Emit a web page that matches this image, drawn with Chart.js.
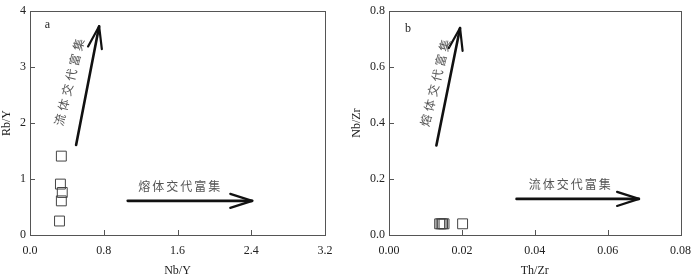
<!DOCTYPE html>
<html>
<head>
<meta charset="utf-8">
<script src="https://cdn.jsdelivr.net/npm/chart.js@4/dist/chart.umd.min.js"></script>
<style>
  html, body { margin: 0; padding: 0; background: #fff; }
  .wrap { position: relative; width: 700px; height: 275px; }
  .panel { position: absolute; top: 0; width: 350px; height: 275px; }
  #panelA { left: 0; }
  #panelB { left: 350px; }
</style>
</head>
<body>
<div class="wrap">
  <div class="panel" id="panelA"><canvas id="chartA" width="350" height="275"></canvas></div>
  <div class="panel" id="panelB"><canvas id="chartB" width="350" height="275"></canvas></div>
</div>
<script>
  // panel a: Rb/Y vs Nb/Y
  const aNbY = [0.34, 0.33, 0.35, 0.34, 0.32];
  const aRbY = [1.41, 0.91, 0.76, 0.61, 0.25];
  const aTicksX = [0, 0.8, 1.6, 2.4, 3.2];
  const aTicksY = [0, 1, 2, 3, 4];
  const aArrows = [
    [0.50, 1.61, 0.75, 3.73],
    [1.06, 0.61, 2.41, 0.61]
  ];
  const aNotes = [
    { text: '流体交代富集', x: 0.43, y: 2.76, angle: -76, spacing: 3.5 },
    { text: '熔体交代富集', x: 1.63, y: 0.87, angle: 0, spacing: 2 }
  ];

  // panel b: Nb/Zr vs Th/Zr
  const bThZr = [0.0139, 0.0143, 0.0147, 0.0151, 0.0202];
  const bNbZr = [0.04, 0.04, 0.04, 0.04, 0.04];
  const bTicksX = [0, 0.02, 0.04, 0.06, 0.08];
  const bTicksY = [0, 0.2, 0.4, 0.6, 0.8];
  const bArrows = [
    [0.0130, 0.32, 0.0195, 0.74],
    [0.035, 0.129, 0.0686, 0.129]
  ];
  const bNotes = [
    { text: '熔体交代富集', x: 0.0128, y: 0.55, angle: -76, spacing: 3.5 },
    { text: '流体交代富集', x: 0.0499, y: 0.18, angle: 0, spacing: 2 }
  ];

  const SERIF = '"Liberation Serif", "DejaVu Serif", serif';
  const CJK = '"Noto Sans CJK SC", sans-serif';

  function decorPlugin(letter, letterPos, arrows, notes) {
    return {
      id: 'decor',
      afterDatasetsDraw(chart) {
        const { ctx, chartArea: area, scales } = chart;
        const xs = scales.x, ys = scales.y;
        ctx.save();
        // frame
        ctx.strokeStyle = '#555';
        ctx.lineWidth = 1;
        ctx.strokeRect(Math.round(area.left) + 0.5, Math.round(area.top) + 0.5,
          Math.round(area.right - area.left), Math.round(area.bottom - area.top));
        // inward tick marks
        ctx.beginPath();
        xs.ticks.forEach((t) => {
          const px = Math.round(xs.getPixelForValue(t.value)) + 0.5;
          ctx.moveTo(px, area.bottom);
          ctx.lineTo(px, area.bottom - 5);
        });
        ys.ticks.forEach((t) => {
          const py = Math.round(ys.getPixelForValue(t.value)) + 0.5;
          ctx.moveTo(area.left, py);
          ctx.lineTo(area.left + 5, py);
        });
        ctx.stroke();
        // arrows
        ctx.strokeStyle = '#111';
        ctx.lineCap = 'round';
        arrows.forEach((a) => {
          const x1 = xs.getPixelForValue(a[0]), y1 = ys.getPixelForValue(a[1]);
          const x2 = xs.getPixelForValue(a[2]), y2 = ys.getPixelForValue(a[3]);
          const ang = Math.atan2(y2 - y1, x2 - x1);
          ctx.lineWidth = 2.6;
          ctx.beginPath();
          ctx.moveTo(x1, y1);
          ctx.lineTo(x2, y2);
          ctx.stroke();
          ctx.lineWidth = 2.2;
          ctx.beginPath();
          [0.31, -0.31].forEach((d) => {
            ctx.moveTo(x2, y2);
            ctx.lineTo(x2 - 23 * Math.cos(ang + d), y2 - 23 * Math.sin(ang + d));
          });
          ctx.stroke();
        });
        // notes
        ctx.fillStyle = '#555';
        ctx.font = '12px ' + CJK;
        ctx.textAlign = 'center';
        ctx.textBaseline = 'middle';
        notes.forEach((n) => {
          ctx.save();
          ctx.letterSpacing = n.spacing + 'px';
          ctx.translate(xs.getPixelForValue(n.x), ys.getPixelForValue(n.y));
          ctx.rotate(n.angle * Math.PI / 180);
          ctx.fillText(n.text, 0, 0);
          ctx.restore();
        });
        // panel letter
        ctx.fillStyle = '#222';
        ctx.font = '12px ' + SERIF;
        ctx.fillText(letter, xs.getPixelForValue(letterPos[0]), ys.getPixelForValue(letterPos[1]));
        ctx.restore();
      }
    };
  }

  function makeChart(canvas, cfg) {
    const points = cfg.xs.map((x, i) => ({ x, y: cfg.ys[i] }));
    return new Chart(canvas, {
      type: 'scatter',
      data: {
        datasets: [{
          data: points,
          pointStyle: 'rect',
          pointRadius: 7,
          pointBorderColor: '#444',
          pointBackgroundColor: 'rgba(0,0,0,0)',
          pointBorderWidth: 1
        }]
      },
      options: {
        responsive: false,
        animation: false,
        layout: { padding: { top: 6, right: cfg.right, left: 0, bottom: 0 } },
        plugins: { legend: { display: false }, tooltip: { enabled: false } },
        scales: {
          x: {
            type: 'linear',
            min: cfg.ticksX[0],
            max: cfg.ticksX[cfg.ticksX.length - 1],
            afterBuildTicks: (s) => { s.ticks = cfg.ticksX.map((v) => ({ value: v })); },
            afterFit: (s) => { s.height = 40; },
            grid: { display: false, tickLength: 0 },
            border: { display: false },
            ticks: {
              padding: 9,
              color: '#222',
              font: { family: SERIF, size: 12 },
              callback: (v) => Number(v).toFixed(cfg.xDigits)
            },
            title: {
              display: true,
              text: cfg.xTitle,
              color: '#222',
              font: { family: SERIF, size: 12 },
              padding: { top: 0, bottom: -3 }
            }
          },
          y: {
            type: 'linear',
            min: cfg.ticksY[0],
            max: cfg.ticksY[cfg.ticksY.length - 1],
            afterBuildTicks: (s) => { s.ticks = cfg.ticksY.map((v) => ({ value: v })); },
            afterFit: (s) => { s.width = cfg.yWidth; },
            grid: { display: false, tickLength: 0 },
            border: { display: false },
            ticks: {
              padding: 4,
              color: '#222',
              font: { family: SERIF, size: 12 },
              callback: (v) => Number(v).toFixed(cfg.yDigits)
            },
            title: {
              display: true,
              text: cfg.yTitle,
              color: '#222',
              font: { family: SERIF, size: 12 },
              padding: { top: 0, bottom: 0 }
            }
          }
        }
      },
      plugins: [decorPlugin(cfg.letter, cfg.letterPos, cfg.arrows, cfg.notes)]
    });
  }

  makeChart(document.getElementById('chartA'), {
    xs: aNbY, ys: aRbY, ticksX: aTicksX, ticksY: aTicksY,
    xDigits: 1, yDigits: 0, xTitle: 'Nb/Y', yTitle: 'Rb/Y',
    yWidth: 30, right: 25,
    letter: 'a', letterPos: [0.19, 3.76],
    arrows: aArrows, notes: aNotes
  });

  makeChart(document.getElementById('chartB'), {
    xs: bThZr, ys: bNbZr, ticksX: bTicksX, ticksY: bTicksY,
    xDigits: 2, yDigits: 1, xTitle: 'Th/Zr', yTitle: 'Nb/Zr',
    yWidth: 39, right: 16,
    letter: 'b', letterPos: [0.0052, 0.737],
    arrows: bArrows, notes: bNotes
  });
</script>
</body>
</html>
